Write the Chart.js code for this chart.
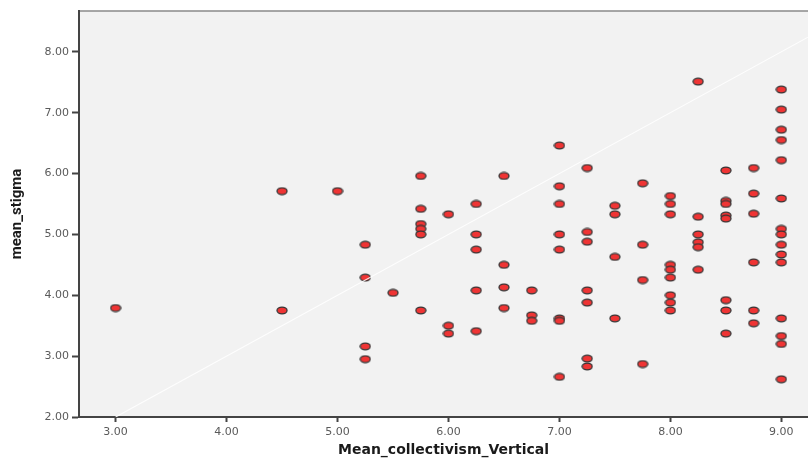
<!DOCTYPE html>
<html>
<head>
<meta charset="utf-8">
<title>mean_stigma by Mean_collectivism_Vertical</title>
<script src="https://cdn.jsdelivr.net/npm/chart.js@4.4.1/dist/chart.umd.min.js"></script>
<style>
  html, body { margin: 0; padding: 0; background: #ffffff; }
  #wrap { width: 808px; height: 461px; }
</style>
</head>
<body>
<div id="wrap"><canvas id="scatterChart" width="808" height="461"></canvas></div>
<script>
// Data (one entry per respondent)
const collectivism = [
  3.00,
  4.50, 4.50,
  5.00,
  5.25, 5.25, 5.25, 5.25,
  5.50,
  5.75, 5.75, 5.75, 5.75, 5.75, 5.75,
  6.00, 6.00, 6.00,
  6.25, 6.25, 6.25, 6.25, 6.25,
  6.50, 6.50, 6.50, 6.50,
  6.75, 6.75, 6.75,
  7.00, 7.00, 7.00, 7.00, 7.00, 7.00, 7.00, 7.00,
  7.25, 7.25, 7.25, 7.25, 7.25, 7.25, 7.25,
  7.50, 7.50, 7.50, 7.50,
  7.75, 7.75, 7.75, 7.75,
  8.00, 8.00, 8.00, 8.00, 8.00, 8.00, 8.00, 8.00, 8.00,
  8.25, 8.25, 8.25, 8.25, 8.25, 8.25,
  8.50, 8.50, 8.50, 8.50, 8.50, 8.50, 8.50, 8.50,
  8.75, 8.75, 8.75, 8.75, 8.75, 8.75,
  9.00, 9.00, 9.00, 9.00, 9.00, 9.00, 9.00, 9.00, 9.00, 9.00, 9.00, 9.00, 9.00, 9.00, 9.00
];
const stigma = [
  3.79,
  5.71, 3.75,
  5.71,
  4.83, 4.29, 3.16, 2.95,
  4.04,
  5.96, 5.42, 5.17, 5.09, 5.00, 3.75,
  5.33, 3.50, 3.37,
  5.50, 5.00, 4.75, 4.08, 3.41,
  5.96, 4.50, 4.13, 3.79,
  4.08, 3.67, 3.58,
  6.46, 5.79, 5.50, 5.00, 4.75, 3.62, 3.58, 2.66,
  6.09, 5.04, 4.88, 4.08, 3.88, 2.96, 2.83,
  5.47, 5.33, 4.63, 3.62,
  5.84, 4.83, 4.25, 2.87,
  5.63, 5.50, 5.33, 4.50, 4.42, 4.29, 4.00, 3.88, 3.75,
  7.51, 5.29, 5.00, 4.87, 4.79, 4.42,
  6.05, 5.55, 5.50, 5.31, 5.26, 3.92, 3.75, 3.37,
  6.09, 5.67, 5.34, 4.54, 3.75, 3.54,
  7.38, 7.05, 6.72, 6.55, 6.22, 5.59, 5.09, 5.00, 4.83, 4.67, 4.54, 3.62, 3.33, 3.20, 2.62
];

// Reference line drawn across the plot
const lineX = [3.00, 9.24];
const lineY = [2.00, 8.24];

// Axis ticks
const xTicks = [3, 4, 5, 6, 7, 8, 9];
const yTicks = [2, 3, 4, 5, 6, 7, 8];

const xTitle = 'Mean_collectivism_Vertical';
const yTitle = 'mean_stigma';

/**
 * Build the oval red marker used by SPSS scatter plots
 */
function makeMarker() {
  const c = document.createElement('canvas');
  c.width = 12;
  c.height = 9;
  const g = c.getContext('2d');
  g.beginPath();
  g.ellipse(6, 4.5, 5, 3.4, 0, 0, Math.PI * 2);
  g.fillStyle = '#ef3434';
  g.fill();
  g.lineWidth = 1.3;
  g.strokeStyle = '#353535';
  g.stroke();
  return c;
}

// Grey plot background and the thin top frame line
const plotFrame = {
  id: 'plotFrame',
  beforeDraw(chart) {
    const { ctx, chartArea } = chart;
    ctx.save();
    ctx.fillStyle = '#ffffff';
    ctx.fillRect(0, 0, chart.width, chart.height);
    ctx.fillStyle = '#f2f2f2';
    ctx.fillRect(chartArea.left, chartArea.top, chartArea.right - chartArea.left, chartArea.bottom - chartArea.top);
    ctx.strokeStyle = '#8a8a8a';
    ctx.lineWidth = 1.5;
    ctx.beginPath();
    ctx.moveTo(chartArea.left, chartArea.top);
    ctx.lineTo(chartArea.right, chartArea.top);
    ctx.stroke();
    ctx.restore();
  }
};

document.addEventListener('DOMContentLoaded', function() {
  const marker = makeMarker();
  const points = collectivism.map((x, i) => ({ x: x, y: stigma[i] }));
  const linePoints = lineX.map((x, i) => ({ x: x, y: lineY[i] }));

  const tickFont = { family: 'DejaVu Sans', size: 11 };

  new Chart(document.getElementById('scatterChart'), {
    type: 'scatter',
    data: {
      datasets: [
        {
          type: 'line',
          data: linePoints,
          borderColor: 'rgba(255, 255, 255, 0.85)',
          borderWidth: 1.2,
          pointRadius: 0,
          fill: false,
          order: 0
        },
        {
          data: points,
          pointStyle: marker,
          pointRadius: 5,
          order: 1
        }
      ]
    },
    plugins: [plotFrame],
    options: {
      responsive: false,
      animation: false,
      events: [],
      layout: { autoPadding: false, padding: { top: 11, right: 0, left: 0, bottom: 0 } },
      plugins: {
        legend: { display: false },
        tooltip: { enabled: false }
      },
      scales: {
        x: {
          type: 'linear',
          min: 2.67,
          max: 9.24,
          afterBuildTicks: scale => { scale.ticks = xTicks.map(v => ({ value: v })); },
          afterFit: scale => {
            scale.height = 44;
            scale.paddingRight = 0;
            scale.paddingLeft = 0;
          },
          grid: { drawOnChartArea: false, tickLength: 5, tickColor: '#444', tickWidth: 2 },
          border: { color: '#444', width: 2 },
          ticks: {
            padding: 4,
            color: '#5a5a5a',
            font: tickFont,
            maxRotation: 0,
            callback: v => Number(v).toFixed(2)
          },
          title: {
            display: true,
            text: xTitle,
            color: '#1a1a1a',
            font: { family: 'DejaVu Sans', size: 14, weight: 'bold' },
            padding: { top: 0, bottom: 2 }
          }
        },
        y: {
          type: 'linear',
          min: 2.0,
          max: 8.67,
          afterBuildTicks: scale => { scale.ticks = yTicks.map(v => ({ value: v })); },
          afterFit: scale => { scale.width = 79; },
          grid: { drawOnChartArea: false, tickLength: 7, tickColor: '#444', tickWidth: 2 },
          border: { color: '#444', width: 2 },
          ticks: {
            padding: 3,
            color: '#5a5a5a',
            font: tickFont,
            callback: v => Number(v).toFixed(2)
          },
          title: {
            display: true,
            text: yTitle,
            color: '#1a1a1a',
            font: { family: 'Roboto', size: 15, weight: 'bold' },
            padding: { top: 8, bottom: 0 }
          }
        }
      }
    }
  });
});
</script>
</body>
</html>
